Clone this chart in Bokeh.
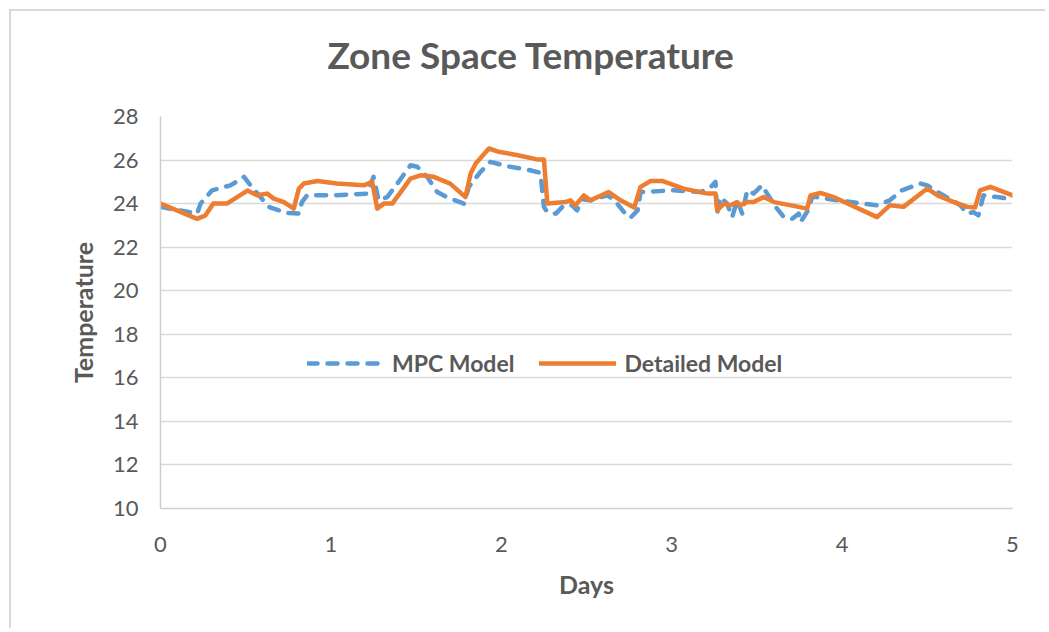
from bokeh.plotting import figure
from bokeh.models import Range1d, Legend, LegendItem, Title, FixedTicker
from bokeh.embed import file_html
from bokeh.resources import INLINE

# --- data ---
detailed_days = [0, 0.215, 0.264, 0.31, 0.39, 0.51, 0.567, 0.626, 0.665, 0.724, 0.782, 0.812, 0.841,
                 0.92, 1.035, 1.193, 1.242, 1.272, 1.31, 1.36, 1.467, 1.526, 1.604, 1.70, 1.79, 1.82,
                 1.85, 1.927, 1.986, 2.09, 2.21, 2.25, 2.27, 2.377, 2.406, 2.435, 2.484, 2.523, 2.63,
                 2.70, 2.78, 2.817, 2.876, 2.944, 3.07, 3.21, 3.257, 3.267, 3.306, 3.345, 3.384, 3.404,
                 3.443, 3.48, 3.54, 3.6, 3.70, 3.795, 3.815, 3.873, 3.95, 4.205, 4.28, 4.36, 4.5, 4.56,
                 4.656, 4.734, 4.78, 4.81, 4.87, 5.0]
detailed_temp = [24.0, 23.3, 23.46, 24.0, 24.0, 24.6, 24.38, 24.46, 24.23, 24.07, 23.77, 24.69, 24.92,
                 25.04, 24.92, 24.84, 25.0, 23.77, 24.0, 24.0, 25.15, 25.3, 25.23, 24.92, 24.3, 25.38,
                 25.84, 26.53, 26.38, 26.23, 26.03, 26.03, 24.0, 24.07, 24.15, 23.92, 24.38, 24.15, 24.53,
                 24.15, 23.82, 24.77, 25.04, 25.04, 24.69, 24.46, 24.46, 23.69, 24.0, 23.92, 24.07, 23.92,
                 24.07, 24.07, 24.3, 24.07, 23.92, 23.77, 24.38, 24.49, 24.3, 23.38, 23.92, 23.85, 24.69,
                 24.38, 24.07, 23.85, 23.82, 24.61, 24.77, 24.38]

mpc_days = [0, 0.215, 0.235, 0.303, 0.41, 0.46, 0.49, 0.528, 0.636, 0.665, 0.743, 0.812, 0.83, 0.86,
            1.017, 1.213, 1.25, 1.28, 1.33, 1.39, 1.467, 1.507, 1.565, 1.624, 1.68, 1.78, 1.81, 1.878,
            1.937, 2.03, 2.15, 2.23, 2.25, 2.27, 2.32, 2.367, 2.416, 2.445, 2.474, 2.523, 2.62, 2.66,
            2.72, 2.758, 2.8, 2.817, 3.01, 3.17, 3.23, 3.257, 3.267, 3.286, 3.325, 3.355, 3.384, 3.414,
            3.443, 3.48, 3.53, 3.56, 3.61, 3.658, 3.707, 3.746, 3.756, 3.80, 3.824, 3.85, 3.97, 4.127,
            4.205, 4.28, 4.35, 4.46, 4.5, 4.56, 4.636, 4.695, 4.734, 4.77, 4.8, 4.83, 4.91, 5.0]
mpc_temp = [23.85, 23.54, 24.0, 24.61, 24.84, 25.07, 25.23, 24.84, 23.85, 23.77, 23.57, 23.54, 24.07,
            24.38, 24.38, 24.46, 25.23, 24.15, 24.3, 24.92, 25.76, 25.69, 25.23, 24.53, 24.3, 24.0,
            24.77, 25.46, 25.92, 25.72, 25.57, 25.41, 23.85, 23.61, 23.54, 23.92, 23.92, 23.69, 24.2,
            24.15, 24.38, 24.2, 23.61, 23.35, 23.69, 24.53, 24.61, 24.53, 24.77, 25.0, 23.54, 24.3,
            24.0, 23.38, 24.15, 23.54, 24.61, 24.46, 24.84, 24.46, 23.85, 23.38, 23.3, 23.54, 23.15,
            23.69, 24.3, 24.3, 24.15, 24.0, 23.92, 24.15, 24.61, 24.92, 24.84, 24.53, 24.2, 23.92,
            23.54, 23.61, 23.46, 24.38, 24.3, 24.2]

x_ticks = [0, 1, 2, 3, 4, 5]
y_ticks = [10, 12, 14, 16, 18, 20, 22, 24, 26, 28]
title_text = "Zone Space Temperature"

FONT = "Lato"
TXT = "#595959"
GRID = "#D9D9D9"

p = figure(width=1036, height=619, output_backend="svg", toolbar_location=None,
           x_range=Range1d(0, 5), y_range=Range1d(10, 28),
           min_border_left=149, min_border_right=35, min_border_top=105, min_border_bottom=122,
           outline_line_color=None, background_fill_color="white", border_fill_color="white",
           styles={"margin-left": "9px", "margin-top": "9px",
                   "border-top": "2px solid #D9D9D9", "border-left": "2px solid #D9D9D9"})

# thin spacer between the chart title and the plot area
p.add_layout(Title(text=" ", text_font_size="1px", standoff=37), "above")
p.add_layout(Title(text=title_text, align="left", offset=167,
                   text_font=FONT, text_font_size="37px", text_font_style="bold",
                   text_color=TXT, standoff=0), "above")

mpc = p.line(mpc_days, mpc_temp, line_color="#5B9BD5", line_width=4.5,
             line_dash="10 10", line_cap="round", line_join="round")
det = p.line(detailed_days, detailed_temp, line_color="#ED7D31", line_width=4.5,
             line_cap="round", line_join="round")

# axes
p.xaxis.ticker = FixedTicker(ticks=x_ticks)
p.yaxis.ticker = FixedTicker(ticks=y_ticks)
for ax in (p.xaxis, p.yaxis):
    ax.major_tick_line_color = None
    ax.minor_tick_line_color = None
    ax.axis_line_color = "#CFCFCF"
    ax.axis_line_width = 1.5
    ax.major_label_text_font = FONT
    ax.major_label_text_font_size = "22px"
    ax.major_label_text_color = TXT
    ax.axis_label_text_font = FONT
    ax.axis_label_text_font_size = "25px"
    ax.axis_label_text_font_style = "bold"
    ax.axis_label_text_color = TXT
p.xaxis.axis_label = "Days"
p.yaxis.axis_label = "Temperature"
p.xaxis.major_label_standoff = 22
p.yaxis.major_label_standoff = 16
p.xaxis.axis_label_standoff = 14
p.yaxis.axis_label_standoff = 12

p.xgrid.grid_line_color = None
p.ygrid.grid_line_color = GRID
p.ygrid.grid_line_width = 1.5

legend = Legend(items=[LegendItem(label="MPC Model", renderers=[mpc]),
                       LegendItem(label="Detailed Model", renderers=[det])],
                orientation="horizontal", location=(147, 131),
                glyph_width=77, glyph_height=20, label_standoff=8, spacing=25,
                padding=0, margin=0, border_line_color=None, background_fill_alpha=0,
                label_text_font=FONT, label_text_font_size="23px", label_text_font_style="bold",
                label_text_color=TXT, label_height=20)
p.add_layout(legend, "center")

open("out.html", "w").write(file_html(p, INLINE))
